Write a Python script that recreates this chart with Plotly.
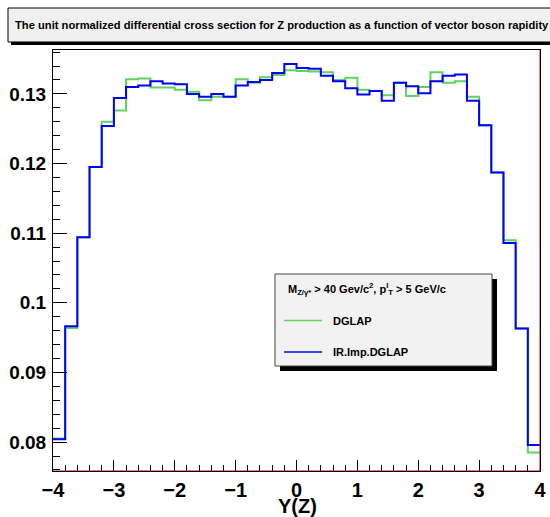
import numpy as np
import plotly.graph_objects as go

# ---- data ----
bin_edges = np.round(np.linspace(-4.0, 4.0, 41), 2)

dglap = [0.0805, 0.0964, 0.1094, 0.1195, 0.1260, 0.1276, 0.1321, 0.1322, 0.1309, 0.1309,
         0.1306, 0.1303, 0.1291, 0.1296, 0.1296, 0.1321, 0.1316, 0.1324, 0.1327, 0.1334,
         0.1333, 0.1332, 0.1331, 0.1320, 0.1323, 0.1306, 0.1304, 0.1298, 0.1316, 0.1297,
         0.1310, 0.1331, 0.1316, 0.1318, 0.1296, 0.1255, 0.1187, 0.1090, 0.0963, 0.0785]

ir_imp_dglap = [0.0804, 0.09665, 0.1094, 0.1195, 0.1254, 0.1294, 0.1310, 0.1312, 0.1318, 0.1315,
                0.1314, 0.1300, 0.1296, 0.1300, 0.1296, 0.1312, 0.1317, 0.1320, 0.1330, 0.1343,
                0.1337, 0.1336, 0.1326, 0.1318, 0.1308, 0.1299, 0.1304, 0.1290, 0.1316, 0.1311,
                0.1301, 0.1318, 0.1326, 0.1328, 0.1290, 0.1255, 0.1187, 0.1086, 0.0963, 0.0796]

x_tickvals = [-4, -3, -2, -1, 0, 1, 2, 3, 4]
x_ticktext = ["\u22124", "\u22123", "\u22122", "\u22121", "0", "1", "2", "3", "4"]
y_tickvals = [0.08, 0.09, 0.10, 0.11, 0.12, 0.13]
y_ticktext = ["0.08", "0.09", "0.1", "0.11", "0.12", "0.13"]

title_text = "The unit normalized differential cross section for Z production as a function of vector boson rapidity"
legend_header = "M<sub>Z/\u03b3*</sub> > 40 Gev/c<sup>2</sup>, p<sup>l</sup><sub>T</sub> > 5 GeV/c"
x_title = "Y(Z)"

# ---- geometry ----
W, H = 550, 517
L, R, T, B = 53, 10, 50, 46
PW, PH = W - L - R, H - T - B
YMIN, YMAX = 0.07585, 0.1363


def px(x):
    return (x - L) / PW


def py(y):
    return (H - B - y) / PH


def step(vals):
    return list(bin_edges), list(vals) + [vals[-1]]


fig = go.Figure()
gx, gy = step(dglap)
bx, by = step(ir_imp_dglap)
fig.add_trace(go.Scatter(x=gx, y=gy, mode="lines", line=dict(shape="hv", color="#5ed35e", width=2),
                         name="DGLAP", showlegend=False, hoverinfo="skip"))
fig.add_trace(go.Scatter(x=bx, y=by, mode="lines", line=dict(shape="hv", color="#0000ff", width=2),
                         name="IR.Imp.DGLAP", showlegend=False, hoverinfo="skip"))

bold = dict(family="Liberation Sans, Arial, sans-serif", color="black", weight="bold")

fig.update_layout(
    width=W, height=H,
    margin=dict(l=L, r=R, t=T, b=B, autoexpand=False),
    paper_bgcolor="white", plot_bgcolor="white",
    xaxis=dict(range=[-4, 4], tickvals=x_tickvals, ticktext=x_ticktext, automargin=False,
               ticks="inside", ticklen=11, tickwidth=1, tickcolor="black",
               minor=dict(dtick=0.2, tick0=-4, ticks="inside", ticklen=6, tickcolor="black", tickwidth=1),
               showline=True, linecolor="black", linewidth=1, mirror=True,
               showgrid=False, zeroline=False,
               tickfont=dict(size=20, **bold), ticklabelstandoff=1),
    yaxis=dict(range=[YMIN, YMAX], tickvals=y_tickvals, ticktext=y_ticktext, automargin=False,
               ticks="inside", ticklen=14, tickwidth=1, tickcolor="black",
               minor=dict(dtick=0.002, tick0=0.08, ticks="inside", ticklen=7, tickcolor="black", tickwidth=1),
               showline=True, linecolor="black", linewidth=1, mirror=True,
               showgrid=False, zeroline=False,
               tickfont=dict(size=19, **bold), ticklabelstandoff=2),
)

shapes = []
# title box with shadow
shapes.append(dict(type="rect", xref="paper", yref="paper", x0=px(11), x1=px(560), y0=py(11), y1=py(45),
                   fillcolor="black", line=dict(width=0), layer="above"))
shapes.append(dict(type="rect", xref="paper", yref="paper", x0=px(8), x1=px(557), y0=py(8), y1=py(42),
                   fillcolor="#f0f0f0", line=dict(color="black", width=1), layer="above"))
# legend box with shadow
shapes.append(dict(type="rect", xref="paper", yref="paper", x0=px(280), x1=px(497), y0=py(279), y1=py(371),
                   fillcolor="black", line=dict(width=0), layer="above"))
shapes.append(dict(type="rect", xref="paper", yref="paper", x0=px(275), x1=px(492), y0=py(274), y1=py(366),
                   fillcolor="#f2f2f2", line=dict(color="#444444", width=1), layer="above"))
# legend line samples
shapes.append(dict(type="line", xref="paper", yref="paper", x0=px(284), x1=px(322), y0=py(320.5), y1=py(320.5),
                   line=dict(color="#5ed35e", width=1.5), layer="above"))
shapes.append(dict(type="line", xref="paper", yref="paper", x0=px(284), x1=px(322), y0=py(352), y1=py(352),
                   line=dict(color="#0000ff", width=1.5), layer="above"))
# red edge lines
shapes.append(dict(type="line", xref="x", yref="paper", x0=4, x1=4, y0=0, y1=1,
                   line=dict(color="#e00000", width=1), layer="above"))
shapes.append(dict(type="line", xref="paper", yref="y", x0=0, x1=1, y0=YMIN, y1=YMIN,
                   line=dict(color="#e00000", width=1), layer="above"))

annotations = [
    dict(text=title_text, xref="paper", yref="paper", x=px(13), y=py(25.5), xanchor="left", yanchor="middle",
         showarrow=False, font=dict(size=11.2, **bold)),
    dict(text=legend_header, xref="paper", yref="paper", x=px(286), y=py(289), xanchor="left", yanchor="middle",
         showarrow=False, font=dict(size=11, **bold)),
    dict(text="DGLAP", xref="paper", yref="paper", x=px(330.5), y=py(320.5), xanchor="left", yanchor="middle",
         showarrow=False, font=dict(size=11, **bold)),
    dict(text="IR.Imp.DGLAP", xref="paper", yref="paper", x=px(330.5), y=py(352), xanchor="left", yanchor="middle",
         showarrow=False, font=dict(size=11, **bold)),
    dict(text=x_title, xref="paper", yref="paper", x=px(297.5), y=py(506), xanchor="center", yanchor="middle",
         showarrow=False, font=dict(size=20, **bold)),
]

fig.update_layout(shapes=shapes, annotations=annotations)
fig.write_html("out.html", config={"displayModeBar": False},
               post_script="document.body.style.margin='0';document.body.style.overflow='hidden';")
